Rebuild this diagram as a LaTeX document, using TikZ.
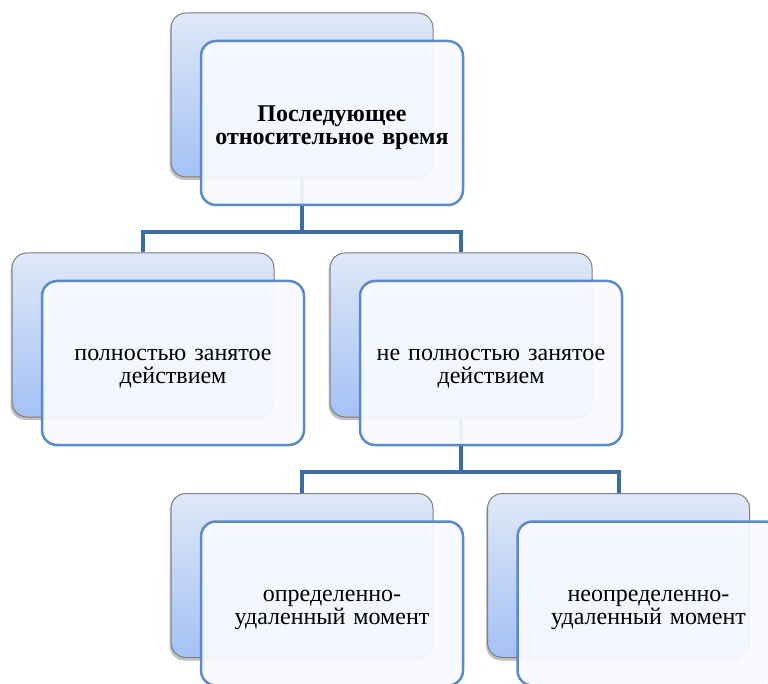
\documentclass[tikz,border=0pt]{standalone}
\usepackage{fontspec}
\setmainfont{Liberation Serif}
\usetikzlibrary{shadows}
\definecolor{backtop}{HTML}{DFE8F8}
\definecolor{backbot}{HTML}{A3C1F5}
\definecolor{backline}{HTML}{7F7F7F}
\definecolor{frontline}{HTML}{5A8ACA}
\definecolor{frontfill}{HTML}{F8FAFF}
\definecolor{connc}{HTML}{3D6BA3}
\tikzset{
  backbox/.style={rectangle, rounded corners=15pt, minimum width=262pt, minimum height=164pt, inner sep=0pt,
    draw=backline, line width=1pt, top color=backtop, bottom color=backbot,
    drop shadow={shadow xshift=-1.5pt, shadow yshift=-3pt, opacity=0.35, fill=black!70}},
  frontbox/.style={rectangle, rounded corners=15pt, minimum width=262pt, minimum height=164pt, inner sep=0pt,
    draw=frontline, line width=2.5pt, fill=frontfill, fill opacity=0.93},
  boxtext/.style={align=center, text width=250pt, inner sep=0pt, font=\fontsize{24}{23}\selectfont, text=black},
  conn/.style={draw=connc, line width=4pt}
}
\begin{document}
\begin{tikzpicture}[x=1pt,y=-1pt]
\useasboundingbox (0,0) rectangle (768,684);
\clip (0,0) rectangle (768,684);
\fill[white] (0,0) rectangle (768,684);
% back boxes
\node[backbox] (B0) at (302,95) {};
\node[backbox] (B1) at (143,335) {};
\node[backbox] (B2) at (461,335) {};
\node[backbox] (B3) at (302,575.5) {};
\node[backbox] (B4) at (618.5,575.5) {};
% connectors
\coordinate (J0) at (302,232);
\coordinate (J1) at (461,472);
\draw[conn] (B0.south) -- (J0) -| (B1.north);
\draw[conn] (J0) -| (B2.north);
\draw[conn] (B2.south) -- (J1) -| (B3.north);
\draw[conn] (J1) -| (B4.north);
% front boxes
\node[frontbox] (F0) at (332,123) {};
\node[frontbox] (F1) at (173,363) {};
\node[frontbox] (F2) at (491,363) {};
\node[frontbox] (F3) at (332,603.5) {};
\node[frontbox] (F4) at (648.5,603.5) {};
% texts
\node[boxtext] (T0) at ([yshift=-5pt]F0.center) {\textbf{Последующее}\\\textbf{относительное время}};
\node[boxtext] (T1) at ([yshift=-6pt]F1.center) {полностью занятое\\действием};
\node[boxtext] (T2) at ([yshift=-6pt]F2.center) {не полностью занятое\\действием};
\node[boxtext] (T3) at ([yshift=-6pt]F3.center) {определенно-\\удаленный момент};
\node[boxtext] (T4) at ([yshift=-6pt]F4.center) {неопределенно-\\удаленный момент};
\end{tikzpicture}
\end{document}
